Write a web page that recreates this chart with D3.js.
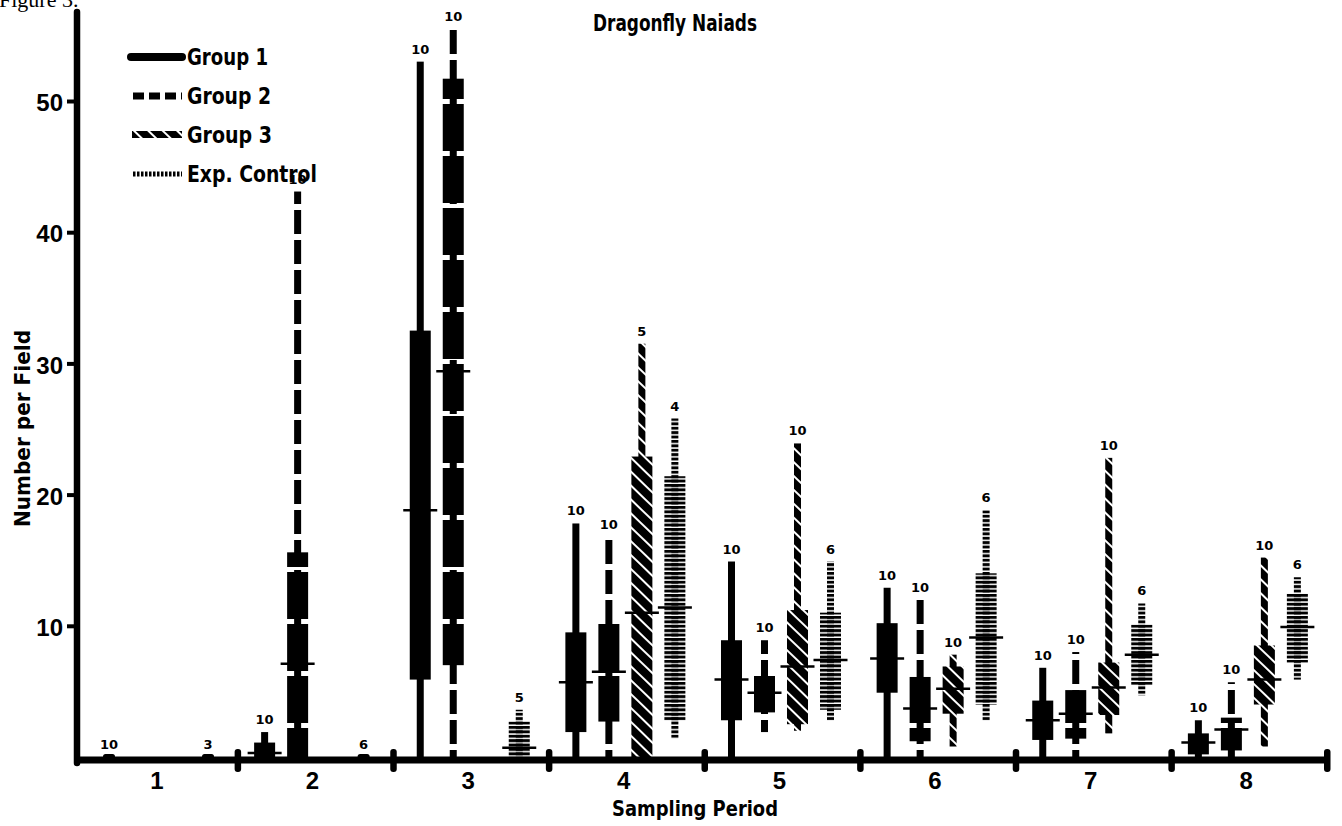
<!DOCTYPE html>
<html>
<head>
<meta charset="utf-8">
<script src="https://cdn.jsdelivr.net/npm/d3@7"></script>
<style>
  body { margin: 0; background: #fff; }
  text { fill: #000; }
</style>
</head>
<body>
<div id="wrapper"></div>
<script>
const periods = ["1", "2", "3", "4", "5", "6", "7", "8"]
const groups = ["Group 1", "Group 2", "Group 3", "Exp. Control"]
const yTicks = [10, 20, 30, 40, 50]

// one row per sampling period: [low, boxLow, mean, boxHigh, high, n]; null = no sample
const group1 = [
  [0, 0, 0, 0, 0, 10],
  [0, 0, 0.3, 1.1, 1.9, 10],
  [0, 5.9, 18.8, 32.5, 53, 10],
  [0, 1.9, 5.7, 9.5, 17.8, 10],
  [0, 2.8, 5.9, 8.9, 14.9, 10],
  [0, 4.9, 7.5, 10.2, 12.9, 10],
  [0, 1.3, 2.8, 4.3, 6.8, 10],
  [0, 0.2, 1.1, 1.8, 2.8, 10]
]
const group2 = [
  null,
  [0, 0, 7.1, 15.6, 43.1, 10],
  [0, 7.0, 29.4, 51.7, 55.5, 10],
  [0, 2.7, 6.5, 10.2, 16.8, 10],
  [1.9, 3.4, 4.9, 6.3, 8.9, 10],
  [0, 1.2, 3.7, 6.1, 12.0, 10],
  [0, 1.4, 3.3, 5.1, 8.0, 10],
  [0, 0.5, 2.1, 3.0, 5.7, 10]
]
const group3 = [
  null,
  null,
  null,
  [0, 0, 11.0, 22.9, 31.5, 5],
  [2.0, 2.5, 6.9, 11.2, 23.9, 10],
  [0.8, 3.3, 5.2, 6.9, 7.8, 10],
  [1.8, 3.2, 5.3, 7.2, 22.8, 10],
  [0.8, 4.0, 5.9, 8.5, 15.2, 10]
]
const control = [
  [0, 0, 0, 0, 0, 3],
  [0, 0, 0, 0, 0, 6],
  [0, 0, 0.7, 2.7, 3.6, 5],
  [1.4, 2.8, 11.4, 21.4, 25.8, 4],
  [2.8, 3.6, 7.4, 11.0, 14.9, 6],
  [2.8, 4.0, 9.1, 14.0, 18.8, 6],
  [4.7, 5.5, 7.8, 10.1, 11.7, 6],
  [5.9, 7.2, 9.9, 12.5, 13.7, 6]
]

const series = [group1, group2, group3, control]
const rows = []
series.forEach((s, gi) => s.forEach((r, pi) => {
  if (r) rows.push({g: groups[gi], p: periods[pi], lo: r[0], q1: r[1], mean: r[2], q3: r[3], hi: r[4], n: r[5]})
}))

const width = 1342, height = 826
const condensed = "'DejaVu Sans Condensed', 'DejaVu Sans', sans-serif"

const svg = d3.select("#wrapper").append("svg")
  .attr("width", width)
  .attr("height", height)

// fill patterns for the four line styles
const defs = svg.append("defs")
const dashBox = defs.append("pattern").attr("id", "dashBox")
  .attr("patternUnits", "userSpaceOnUse").attr("width", 40).attr("height", 52)
dashBox.append("rect").attr("width", 40).attr("height", 47).attr("fill", "#000")
const dashWhisk = defs.append("pattern").attr("id", "dashWhisk")
  .attr("patternUnits", "userSpaceOnUse").attr("width", 20).attr("height", 30)
dashWhisk.append("rect").attr("width", 20).attr("height", 24).attr("fill", "#000")
const hatch = defs.append("pattern").attr("id", "hatch")
  .attr("patternUnits", "userSpaceOnUse").attr("width", 10).attr("height", 10)
  .attr("patternTransform", "rotate(44)")
hatch.append("rect").attr("width", 10).attr("height", 10).attr("fill", "#000")
hatch.append("rect").attr("width", 10).attr("height", 2).attr("fill", "#fff")
const dots = defs.append("pattern").attr("id", "dots")
  .attr("patternUnits", "userSpaceOnUse").attr("width", 10).attr("height", 4.4)
dots.append("rect").attr("width", 10).attr("height", 2.9).attr("fill", "#000")

const boxFill = {"Group 1": "#000", "Group 2": "url(#dashBox)", "Group 3": "url(#hatch)", "Exp. Control": "url(#dots)"}
const whiskFill = {"Group 1": "#000", "Group 2": "url(#dashWhisk)", "Group 3": "url(#hatch)", "Exp. Control": "url(#dots)"}

// scales
const y = d3.scaleLinear().domain([0, 50]).range([757, 101])
const x = d3.scaleBand().domain(periods).range([82, 1327]).padding(0)
const xi = d3.scalePoint().domain(groups).range([27, 126])
const cx = d => x(d.p) + xi(d.g)

// figure caption (cut off at the top in the scan)
svg.append("text").attr("x", -1).attr("y", 7)
  .style("font-family", "'Liberation Serif', serif").style("font-size", "22px")
  .text("Figure 3.")

svg.append("text").attr("x", 593).attr("y", 31)
  .attr("textLength", 164).attr("lengthAdjust", "spacingAndGlyphs")
  .style("font-family", condensed).style("font-weight", "bold").style("font-size", "23px")
  .text("Dragonfly Naiads")

// marks
const marks = svg.append("g")
const nonZero = rows.filter(d => d.hi > 0)
const zero = rows.filter(d => d.hi === 0)

marks.selectAll("rect.whisk").data(nonZero).enter().append("rect")
  .attr("class", "whisk")
  .attr("x", d => cx(d) - 3.5)
  .attr("width", 7)
  .attr("y", d => y(d.hi))
  .attr("height", d => y(d.lo) - y(d.hi))
  .attr("fill", d => whiskFill[d.g])

marks.selectAll("rect.box").data(nonZero).enter().append("rect")
  .attr("class", "box")
  .attr("x", d => cx(d) - 10.5)
  .attr("width", 21)
  .attr("y", d => y(d.q3))
  .attr("height", d => y(d.q1) - y(d.q3))
  .attr("fill", d => boxFill[d.g])

marks.selectAll("line.mean").data(nonZero).enter().append("line")
  .attr("class", "mean")
  .attr("x1", d => cx(d) - 17).attr("x2", d => cx(d) + 17)
  .attr("y1", d => y(d.mean)).attr("y2", d => y(d.mean))
  .attr("stroke", "#000").attr("stroke-width", 2.5)

marks.selectAll("rect.blob").data(zero).enter().append("rect")
  .attr("class", "blob")
  .attr("x", d => cx(d) - 6).attr("width", 12)
  .attr("y", y(0) - 3).attr("height", 5).attr("rx", 2.5)
  .attr("fill", "#000")

marks.selectAll("text.n").data(rows).enter().append("text")
  .attr("class", "n")
  .attr("x", cx)
  .attr("y", d => y(d.hi) - 8)
  .attr("text-anchor", "middle")
  .style("font-family", "'DejaVu Sans', sans-serif").style("font-weight", "bold").style("font-size", "13px")
  .text(d => d.n)

// axes
const yAxis = svg.append("g").attr("transform", "translate(77,0)")
  .call(d3.axisLeft(y).tickValues(yTicks).tickSize(10).tickSizeOuter(0).tickPadding(4))
yAxis.select(".domain").remove()
yAxis.selectAll(".tick line").attr("stroke-width", 4)
yAxis.selectAll(".tick text")
  .attr("dy", "0.4em")
  .style("font-family", "'Liberation Sans', Arial, sans-serif").style("font-weight", "bold").style("font-size", "24px")

svg.append("line").attr("x1", 77).attr("x2", 77).attr("y1", 12).attr("y2", 763)
  .attr("stroke", "#000").attr("stroke-width", 6.5).attr("stroke-linecap", "round")

const xAxis = svg.append("g").attr("transform", "translate(0,760)")
  .call(d3.axisBottom(x).tickSize(0).tickPadding(12))
xAxis.select(".domain").remove()
xAxis.selectAll(".tick text")
  .attr("dx", "-3")
  .style("font-family", "'Liberation Sans', Arial, sans-serif").style("font-weight", "bold").style("font-size", "24px")

svg.append("line").attr("x1", 75).attr("x2", 1329).attr("y1", 760).attr("y2", 760)
  .attr("stroke", "#000").attr("stroke-width", 7)

svg.selectAll("rect.sep").data(periods).enter().append("rect")
  .attr("class", "sep")
  .attr("x", d => x(d) + x.bandwidth() - 3)
  .attr("width", 6.5)
  .attr("y", 749).attr("height", 23).attr("rx", 3)
  .attr("fill", "#000")

svg.append("text").attr("x", 612).attr("y", 816)
  .attr("textLength", 166).attr("lengthAdjust", "spacingAndGlyphs")
  .style("font-family", condensed).style("font-weight", "bold").style("font-size", "21px")
  .text("Sampling Period")

svg.append("text").attr("transform", "translate(30,527) rotate(-90)")
  .attr("textLength", 197).attr("lengthAdjust", "spacingAndGlyphs")
  .style("font-family", condensed).style("font-weight", "bold").style("font-size", "21px")
  .text("Number per Field")

// legend
const legend = svg.append("g")
const legY = d3.scalePoint().domain(groups).range([65, 182])
const legLen = {"Group 1": 81, "Group 2": 84, "Group 3": 85, "Exp. Control": 130}
legend.selectAll("text").data(groups).enter().append("text")
  .attr("x", 187).attr("y", d => legY(d))
  .attr("textLength", d => legLen[d]).attr("lengthAdjust", "spacingAndGlyphs")
  .style("font-family", condensed).style("font-weight", "bold").style("font-size", "23px")
  .text(d => d)

legend.append("line").attr("x1", 131).attr("x2", 182)
  .attr("y1", legY("Group 1") - 8).attr("y2", legY("Group 1") - 8)
  .attr("stroke", "#000").attr("stroke-width", 8).attr("stroke-linecap", "round")
legend.append("line").attr("x1", 133).attr("x2", 182)
  .attr("y1", legY("Group 2") - 8).attr("y2", legY("Group 2") - 8)
  .attr("stroke", "#000").attr("stroke-width", 7).attr("stroke-dasharray", "11,5")
legend.append("rect").attr("x", 132).attr("width", 50)
  .attr("y", legY("Group 3") - 12).attr("height", 7)
  .attr("fill", "url(#hatch)")
legend.append("line").attr("x1", 133).attr("x2", 182)
  .attr("y1", legY("Exp. Control") - 8).attr("y2", legY("Exp. Control") - 8)
  .attr("stroke", "#000").attr("stroke-width", 5).attr("stroke-dasharray", "2.5,1.5")
</script>
</body>
</html>
